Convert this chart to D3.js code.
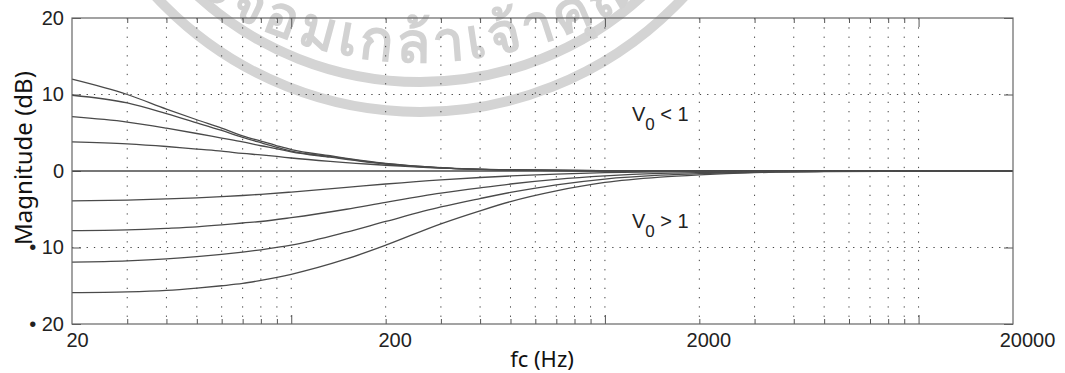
<!DOCTYPE html>
<html>
<head>
<meta charset="utf-8">
<script src="https://cdn.jsdelivr.net/npm/d3@7"></script>
<style>
  body { margin: 0; background: #fff; }
  svg { display: block; }
  .tick-label { font-family: "Liberation Sans", Arial, sans-serif; font-size: 20px; fill: #222; }
  .title { font-family: "Noto Sans", "Open Sans", sans-serif; fill: #111; }
</style>
</head>
<body>
<svg id="chart" width="1065" height="373"></svg>
<script>
/*
 * Magnitude response vs. cut-off frequency, log axis 20 Hz .. 20 kHz.
 * Values.
 */

// boost curves (V0 < 1)
var posFreq = [20, 30, 40, 50, 60, 70, 80, 90, 100, 133, 200, 300, 500, 1000, 2000, 20000];
var pos1 = [12.0, 10.0, 8.1, 6.7, 5.6, 4.6, 3.9, 3.3, 2.8, 2.0, 1.0, 0.45, 0.15, 0.03, 0, 0];
var pos2 = [9.9, 8.9, 7.5, 6.3, 5.3, 4.4, 3.7, 3.1, 2.6, 1.9, 0.95, 0.42, 0.14, 0.03, 0, 0];
var pos3 = [7.1, 6.4, 5.6, 4.9, 4.3, 3.8, 3.3, 2.9, 2.5, 1.8, 0.9, 0.4, 0.13, 0.03, 0, 0];
var pos4 = [3.8, 3.55, 3.2, 2.85, 2.6, 2.3, 2.1, 1.9, 1.7, 1.25, 0.75, 0.38, 0.13, 0.03, 0, 0];

// V0 = 1
var flatFreq = [20, 20000];
var flat = [0, 0];

// cut curves (V0 > 1)
var negFreq = [20, 30, 40, 50, 60, 70, 80, 100, 150, 200, 300, 400, 500, 700, 1000, 1500, 2000, 3000, 5000, 20000];
var neg1 = [-3.9, -3.8, -3.65, -3.5, -3.35, -3.2, -3.05, -2.75, -2.15, -1.7, -1.15, -0.85, -0.65, -0.4, -0.22, -0.1, -0.06, -0.03, -0.01, 0];
var neg2 = [-7.8, -7.7, -7.5, -7.3, -7.05, -6.8, -6.6, -6.1, -5.0, -4.1, -2.9, -2.2, -1.7, -1.1, -0.65, -0.32, -0.2, -0.1, -0.04, 0];
var neg3 = [-11.9, -11.75, -11.5, -11.2, -10.9, -10.6, -10.3, -9.7, -8.0, -6.6, -4.7, -3.6, -2.8, -1.8, -1.05, -0.55, -0.33, -0.16, -0.06, 0];
var neg4 = [-15.9, -15.8, -15.6, -15.3, -15.0, -14.7, -14.3, -13.5, -11.5, -9.7, -6.9, -5.2, -4.0, -2.6, -1.5, -0.8, -0.5, -0.22, -0.08, 0];

// ticks
var xMinorTicks = [30, 40, 50, 60, 70, 80, 90, 200, 300, 400, 500, 600, 700, 800, 900,
                   2000, 3000, 4000, 5000, 6000, 7000, 8000, 9000];
var xMajorTicks = [100, 1000, 10000];
var xLabels = [20, 200, 2000, 20000];
var yTicks = [-20, -10, 0, 10, 20];
var yGrid = [-10, 10];

var curves = [
  { f: posFreq, v: pos1 }, { f: posFreq, v: pos2 }, { f: posFreq, v: pos3 }, { f: posFreq, v: pos4 },
  { f: flatFreq, v: flat },
  { f: negFreq, v: neg1 }, { f: negFreq, v: neg2 }, { f: negFreq, v: neg3 }, { f: negFreq, v: neg4 }
];

function render() {
  var svg = d3.select('#chart'),
    margin = {top: 18, right: 52, bottom: 49, left: 72},
    width = svg.attr('width') - margin.left - margin.right,
    height = svg.attr('height') - margin.top - margin.bottom;

  var x = d3.scaleLog().domain([20, 20000]).range([0, width]);
  var y = d3.scaleLinear().domain([-20, 20]).range([height, 0]);

  var g = svg.append('g')
    .attr('transform', 'translate(' + margin.left + ',' + margin.top + ')');

  // Watermark behind the plot (grey rings with Thai lettering).
  var wm = svg.append('g').attr('class', 'watermark').lower();
  var cx = 420, cy = -248;
  [330, 360].forEach(function(r) {
    wm.append('circle')
      .attr('cx', cx).attr('cy', cy).attr('r', r)
      .attr('fill', 'none').attr('stroke', '#d4d4d4').attr('stroke-width', 10);
  });
  var tcy = -340, rt = 402;
  wm.append('path')
    .attr('id', 'wmArc')
    .attr('fill', 'none')
    .attr('d', 'M' + (cx - rt) + ',' + tcy + ' A' + rt + ',' + rt + ' 0 0,0 ' + (cx + rt) + ',' + tcy);
  wm.append('text')
    .attr('font-family', '"Noto Sans", "DejaVu Sans", sans-serif')
    .attr('font-size', 56)
    .attr('font-weight', 'bold')
    .attr('letter-spacing', 4)
    .attr('fill', '#d2d2d2')
    .append('textPath')
      .attr('href', '#wmArc')
      .attr('startOffset', 362)
      .text('ระจอมเกล้าเจ้าคุณทหาร');

  // Grid
  g.selectAll('.vgrid')
    .data(xMinorTicks.concat(xMajorTicks))
    .enter()
    .append('line')
      .attr('class', 'vgrid')
      .attr('x1', function(d) { return x(d); })
      .attr('x2', function(d) { return x(d); })
      .attr('y1', 0)
      .attr('y2', height)
      .attr('stroke', '#444')
      .attr('stroke-width', 1)
      .attr('stroke-dasharray', '1.3,8');

  g.selectAll('.hgrid')
    .data(yGrid)
    .enter()
    .append('line')
      .attr('class', 'hgrid')
      .attr('x1', 0)
      .attr('x2', width)
      .attr('y1', function(d) { return y(d); })
      .attr('y2', function(d) { return y(d); })
      .attr('stroke', '#444')
      .attr('stroke-width', 1)
      .attr('stroke-dasharray', '1.3,6');

  // Ticks, pointing inward on all four sides
  var tickAxes = [
    { axis: d3.axisBottom(x).tickValues(xMinorTicks).tickSize(-5), t: 'translate(0,' + height + ')' },
    { axis: d3.axisBottom(x).tickValues(xMajorTicks).tickSize(-9), t: 'translate(0,' + height + ')' },
    { axis: d3.axisTop(x).tickValues(xMinorTicks).tickSize(-5), t: 'translate(0,0)' },
    { axis: d3.axisTop(x).tickValues(xMajorTicks).tickSize(-9), t: 'translate(0,0)' },
    { axis: d3.axisRight(y).tickValues(yTicks).tickSize(-9), t: 'translate(' + width + ',0)' }
  ];
  tickAxes.forEach(function(a) {
    g.append('g')
      .attr('transform', a.t)
      .call(a.axis.tickFormat(''))
      .call(function(s) {
        s.select('.domain').remove();
        s.selectAll('line').attr('stroke', '#555');
      });
  });

  // Left axis with labels (the minus sign shows as a dot in the source)
  g.append('g')
    .call(d3.axisLeft(y).tickValues(yTicks).tickSize(-9).tickPadding(8)
      .tickFormat(function(d) { return d < 0 ? '\u2022 ' + Math.abs(d) : String(d); }))
    .call(function(s) {
      s.select('.domain').remove();
      s.selectAll('line').attr('stroke', '#555');
      s.selectAll('text').attr('class', 'tick-label').attr('font-family', null).attr('font-size', null);
    });

  // Bottom labels
  g.append('g')
    .attr('transform', 'translate(0,' + height + ')')
    .call(d3.axisBottom(x).tickValues(xLabels).tickSize(0).tickPadding(9).tickFormat(d3.format('d')))
    .call(function(s) {
      s.select('.domain').remove();
      s.selectAll('text').attr('class', 'tick-label').attr('font-family', null).attr('font-size', null)
        .attr('dx', function(d, i) { return i === 0 ? 5 : (i === 3 ? 14 : 9); });
    });

  // Curves
  var line = d3.line()
    .x(function(d) { return x(d[0]); })
    .y(function(d) { return y(d[1]); })
    .curve(d3.curveMonotoneX);

  g.selectAll('.curve')
    .data(curves)
    .enter()
    .append('path')
      .attr('class', 'curve')
      .attr('fill', 'none')
      .attr('stroke', '#4a4a4a')
      .attr('stroke-width', 1.3)
      .attr('d', function(c) { return line(d3.zip(c.f, c.v)); });

  // Frame
  g.append('rect')
    .attr('width', width)
    .attr('height', height)
    .attr('fill', 'none')
    .attr('stroke', '#666')
    .attr('stroke-width', 1.2);

  // Annotations
  var notes = [{ t: 'V', s: '0', r: ' < 1', v: 6.6 }, { t: 'V', s: '0', r: ' > 1', v: -7.45 }];
  notes.forEach(function(n) {
    var txt = g.append('text')
      .attr('class', 'tick-label')
      .attr('font-size', 20)
      .attr('x', x(1220))
      .attr('y', y(n.v));
    txt.append('tspan').text(n.t);
    txt.append('tspan').attr('font-size', 17).attr('dy', 9).text(n.s);
    txt.append('tspan').attr('dy', -9).text(n.r);
  });

  // Axis titles
  svg.append('text')
    .attr('class', 'title')
    .attr('font-size', 24)
    .attr('text-anchor', 'middle')
    .attr('transform', 'translate(32,158) rotate(-90)')
    .text('Magnitude (dB)');

  svg.append('text')
    .attr('class', 'title')
    .attr('font-size', 22)
    .attr('text-anchor', 'middle')
    .attr('x', 542)
    .attr('y', 367)
    .text('fc (Hz)');
}

render();
</script>
</body>
</html>
